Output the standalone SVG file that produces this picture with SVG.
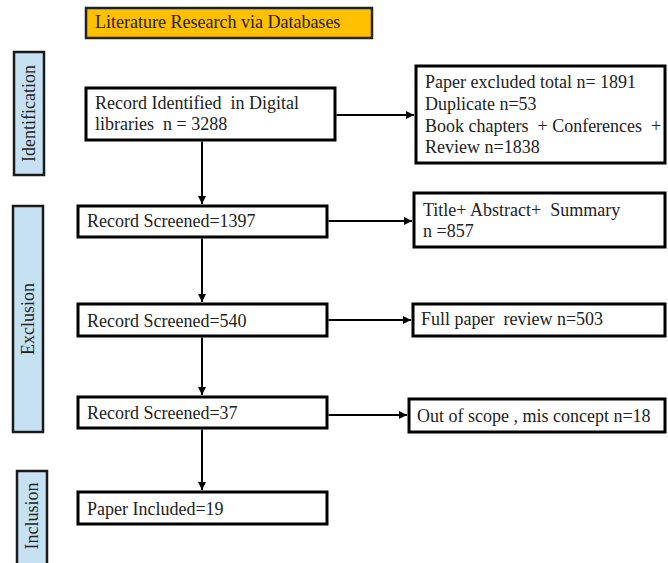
<svg xmlns="http://www.w3.org/2000/svg" width="668" height="563" viewBox="0 0 668 563">
<style>
text{font-family:"Liberation Serif","Times New Roman",serif;font-size:18px;fill:#222;white-space:pre}
.box{fill:#fff;stroke:#000;stroke-width:3}
.side{fill:#C6E2F2;stroke:#1a1a1a;stroke-width:2.5}
.title{fill:#FFC000;stroke:#222;stroke-width:2.5}
.con{stroke:#000;stroke-width:2;fill:none;marker-end:url(#ah)}
</style>
<defs>
<marker id="ah" viewBox="0 0 10 10" refX="10" refY="5" markerWidth="8" markerHeight="8" markerUnits="userSpaceOnUse" orient="auto">
<path d="M0,0 L10,5 L0,10 z" fill="#000"/>
</marker>
</defs>
<rect width="668" height="563" fill="#fff"/>
<g id="title"><rect class="title" x="86" y="8" width="286" height="30"/><text x="95" y="28">Literature Research via Databases</text></g>
<g id="side-identification"><rect class="side" x="14" y="52" width="30" height="123"/><text transform="translate(35,113.5) rotate(-90)" text-anchor="middle">Identification</text></g>
<g id="side-exclusion"><rect class="side" x="13" y="206" width="30" height="226"/><text transform="translate(34,319) rotate(-90)" text-anchor="middle">Exclusion</text></g>
<g id="side-inclusion"><rect class="side" x="17" y="471" width="30" height="95"/><text transform="translate(38,516) rotate(-90)" text-anchor="middle">Inclusion</text></g>
<g id="n-identified"><rect class="box" x="86" y="88" width="249" height="52"/><text x="95" y="109">Record Identified  in Digital</text><text x="95" y="130">libraries  n = 3288</text></g>
<g id="n-1397"><rect class="box" x="78" y="206" width="249" height="31"/><text x="87" y="227">Record Screened=1397</text></g>
<g id="n-540"><rect class="box" x="78" y="304" width="249" height="32"/><text x="87" y="327">Record Screened=540</text></g>
<g id="n-37"><rect class="box" x="78" y="397" width="249" height="31"/><text x="87" y="419">Record Screened=37</text></g>
<g id="n-included"><rect class="box" x="78" y="492" width="249" height="32"/><text x="87" y="515">Paper Included=19</text></g>
<g id="n-excluded"><rect class="box" x="416" y="66" width="249" height="97"/><text x="425" y="88">Paper excluded total n= 1891</text><text x="425" y="110">Duplicate n=53</text><text x="425" y="132">Book chapters  + Conferences  +</text><text x="425" y="153">Review n=1838</text></g>
<g id="n-title-abstract"><rect class="box" x="414" y="193" width="251" height="54"/><text x="423" y="216">Title+ Abstract+  Summary</text><text x="423" y="237">n =857</text></g>
<g id="n-full"><rect class="box" x="413" y="304" width="252" height="32"/><text x="421" y="325">Full paper  review n=503</text></g>
<g id="n-scope"><rect class="box" x="409" y="399" width="256" height="33"/><text x="417" y="422">Out of scope , mis concept n=18</text></g>
<g id="connectors">
<line class="con" x1="202" y1="141.5" x2="202" y2="204"/>
<line class="con" x1="202" y1="238.5" x2="202" y2="302"/>
<line class="con" x1="202" y1="337.5" x2="202" y2="395"/>
<line class="con" x1="202" y1="429.5" x2="202" y2="490"/>
<line class="con" x1="336.5" y1="115" x2="414" y2="115"/>
<line class="con" x1="328.5" y1="221" x2="412" y2="221"/>
<line class="con" x1="328.5" y1="320" x2="411" y2="320"/>
<line class="con" x1="328.5" y1="415" x2="407" y2="415"/>
</g>
</svg>
